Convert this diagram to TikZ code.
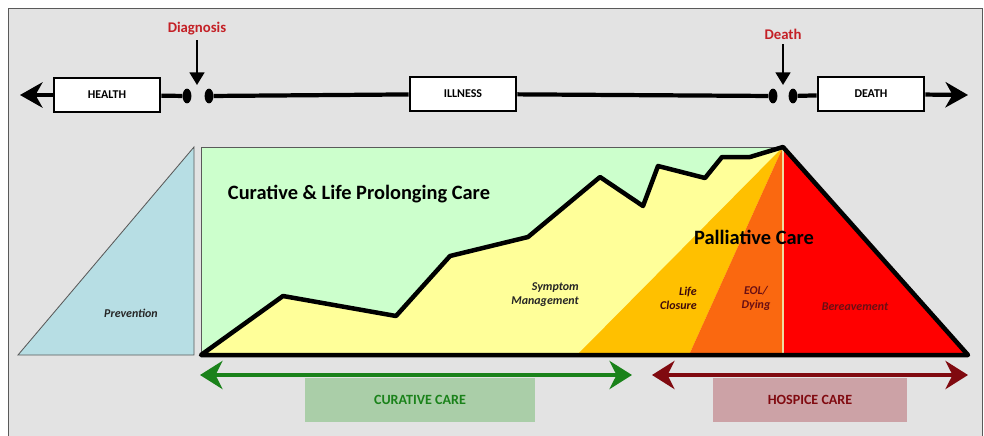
\documentclass[tikz,border=0pt]{standalone}
\usepackage{fontspec}
\setmainfont{Carlito}
\usetikzlibrary{arrows.meta,shapes.geometric}
\definecolor{bggrey}{RGB}{227,227,227}
\definecolor{framegrey}{RGB}{90,90,90}
\definecolor{evred}{RGB}{196,32,38}
\definecolor{prevblue}{RGB}{183,222,228}
\definecolor{curegreen}{RGB}{204,255,204}
\definecolor{symyellow}{RGB}{255,255,153}
\definecolor{lifegold}{RGB}{255,192,0}
\definecolor{eolorange}{RGB}{250,104,16}
\definecolor{berred}{RGB}{255,0,0}
\definecolor{cream}{RGB}{240,220,160}
\definecolor{darkmaroon}{RGB}{105,15,20}
\definecolor{curedark}{RGB}{26,130,26}
\definecolor{curebox}{RGB}{170,206,168}
\definecolor{hospdark}{RGB}{128,10,16}
\definecolor{hospbox}{RGB}{204,162,166}
\begin{document}
\begin{tikzpicture}[x=0.025cm,y=-0.025cm,
    stage/.style={draw,line width=1.9pt,fill=white,minimum width=2.65cm,minimum height=0.85cm,
      inner sep=0pt,font=\fontsize{8.5}{10}\selectfont\bfseries},
    gapdot/.style={ellipse,fill=black,minimum width=0.22cm,minimum height=0.37cm,inner sep=0pt},
    event/.style={text=evred,font=\fontsize{10.5}{12}\selectfont\bfseries},
    axis/.style={line width=3pt},
    pointer/.style={line width=1.7pt,-{Triangle[length=9pt,width=10.5pt]}},
    phase/.style={font=\fontsize{8.5}{10}\selectfont\bfseries\itshape,inner sep=0pt},
    title/.style={font=\fontsize{14.5}{16}\selectfont\bfseries,inner sep=0pt},
    carebox/.style={minimum width=5.75cm,minimum height=1.1cm,inner sep=0pt,
      font=\fontsize{10}{12}\selectfont\bfseries},
    span/.style={line width=3.2pt,{Stealth[length=16pt,width=20pt,inset=5pt]}-{Stealth[length=16pt,width=20pt,inset=5pt]}}]
  \useasboundingbox (0,0) rectangle (984,435);
  \fill[white] (0,0) rectangle (984,435);
  \draw[framegrey,fill=bggrey,line width=0.6pt] (8,8) rectangle (982,440);
  % time line
  \node[stage] (health) at (107,95) {HEALTH};
  \node[stage] (illness) at (463,94) {ILLNESS};
  \node[stage] (death) at (871,94) {DEATH};
  \node[gapdot] (g1) at (187,96) {};
  \node[gapdot] (g2) at (209,96) {};
  \node[gapdot] (g3) at (773,96) {};
  \node[gapdot] (g4) at (793,96) {};
  \coordinate (le) at (20,95);
  \coordinate (re) at (968,95);
  \draw[axis,-{Stealth[length=16pt,width=18pt,inset=5pt]}] (health) -- (le);
  \draw[axis] (health) -- (g1);
  \draw[axis] (g2) -- (illness);
  \draw[axis] (illness) -- (g3);
  \draw[axis] (g4) -- (death);
  \draw[axis,-{Stealth[length=16pt,width=18pt,inset=5pt]}] (death) -- (re);
  \node[event] (diag) at (197,29) {Diagnosis};
  \node[event] (dead) at (783,34) {Death};
  \coordinate (p1) at (197,85);
  \coordinate (p2) at (783,85);
  \draw[pointer] (diag) -- (p1);
  \draw[pointer] (dead) -- (p2);
  % care areas
  \draw[framegrey,fill=prevblue,line width=0.6pt] (18,355) -- (194,147) -- (194,355) -- cycle;
  \draw[framegrey,fill=curegreen,line width=0.6pt] (201,147) rectangle (783,355);
  \fill[symyellow] (201,355) -- (283,296) -- (396,316) -- (450,256) -- (528,237) -- (600,177)
    -- (643,206) -- (658,166) -- (705,178) -- (722,157) -- (750,157) -- (783,147) -- (783,355) -- cycle;
  \fill[lifegold] (577,355) -- (783,147) -- (689,355) -- cycle;
  \fill[eolorange] (689,355) -- (783,147) -- (784,355) -- cycle;
  \fill[berred] (784,355) -- (783,147) -- (968,355) -- cycle;
  \draw[cream,line width=0.8pt] (783,149) -- (783,353);
  \draw[line width=3.2pt,line join=round] (201,355) -- (283,296) -- (396,316) -- (450,256) -- (528,237)
    -- (600,177) -- (643,206) -- (658,166) -- (705,178) -- (722,157) -- (750,157) -- (783,147)
    -- (968,355) -- cycle;
  \node[title] (clpc) at (359,194) {Curative \& Life Prolonging Care};
  \node[title] (pall) at (754,237) {Palliative Care};
  \node[phase,text=black!85,align=center] (prev) at (131,313) {Prevention};
  \node[phase,text=black!85,align=right,anchor=east] (symp) at (579,295) {Symptom\\Management};
  \node[phase,text=darkmaroon!60!black,align=right,anchor=east] (life) at (697,298) {Life\\Closure};
  \node[phase,text=darkmaroon,align=center] (eol) at (756,298) {EOL/\\Dying};
  \node[phase,text=darkmaroon] (berv) at (855,307) {Bereavement};
  % care spans
  \node[carebox,fill=curebox,text=curedark] (cure) at (420,400) {CURATIVE CARE};
  \node[carebox,fill=hospbox,text=hospdark,minimum width=4.85cm] (hosp) at (810,400) {HOSPICE CARE};
  \coordinate (c1) at (200,375);
  \coordinate (c2) at (632,375);
  \coordinate (h1) at (652,375);
  \coordinate (h2) at (968,375);
  \draw[span,curedark] (c1) -- (c2);
  \draw[span,hospdark] (h1) -- (h2);
\end{tikzpicture}
\end{document}
